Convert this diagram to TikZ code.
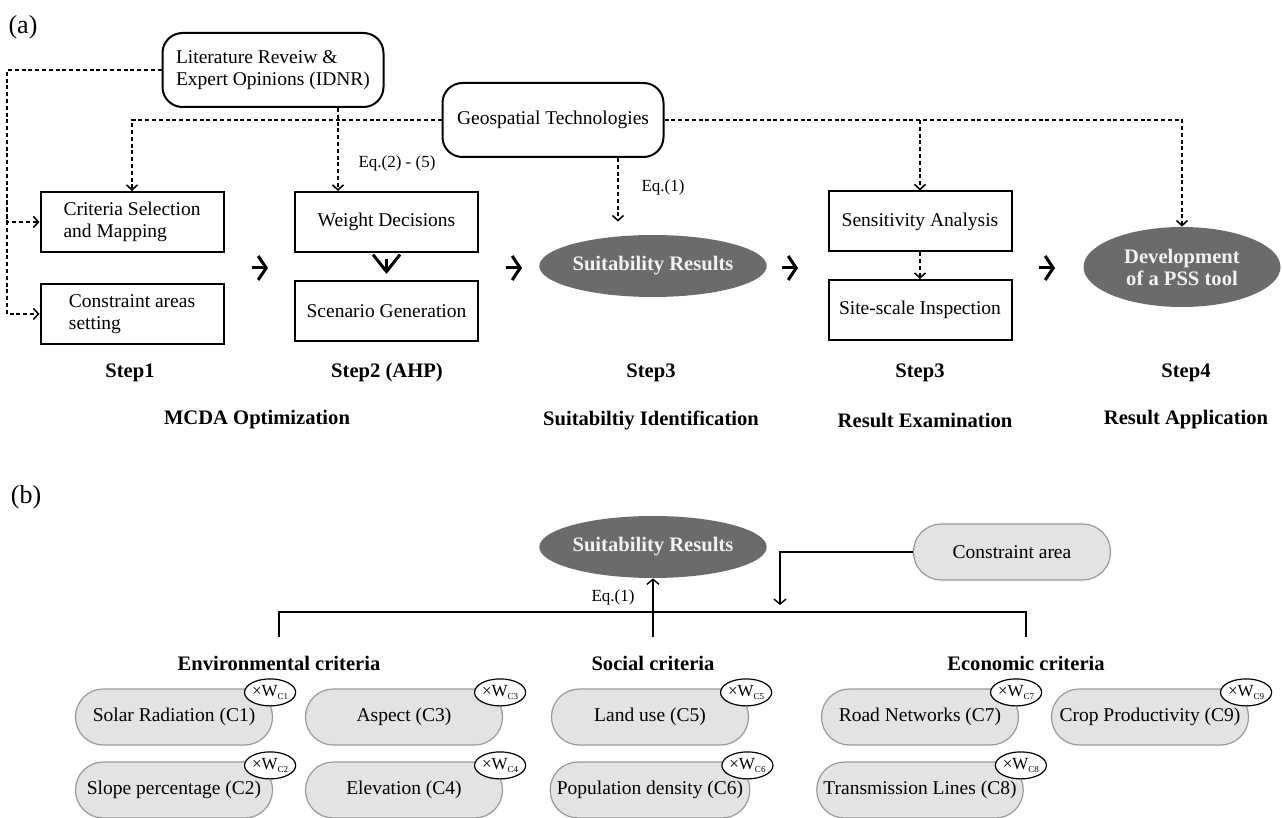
\documentclass[tikz,border=0pt]{standalone}
\usepackage{fontspec}
\setmainfont{Liberation Serif}
\usepackage{tikz}
\usetikzlibrary{shapes.geometric,arrows.meta,calc}
\definecolor{resgray}{HTML}{6B6B6B}
\definecolor{reswhite}{HTML}{F2F2F2}
\definecolor{pillfill}{HTML}{E3E3E3}
\definecolor{pillline}{HTML}{9A9A9A}
\newcommand{\boxfont}{\fontsize{9.75}{11}\selectfont}
\newcommand{\headfont}{\fontsize{10.3}{11}\selectfont\bfseries}
\newcommand{\eqfont}{\fontsize{8.5}{9}\selectfont}
\newcommand{\wsub}[1]{{\fontsize{8.5}{9}\selectfont ×W\raisebox{-1.5pt}{\fontsize{4.5}{5}\selectfont #1}}}
\tikzstyle{stepbox}=[rectangle,draw=black,line width=1pt,inner sep=0pt,
                     minimum width=91.5pt,minimum height=30pt,align=left,font=\boxfont]
\tikzstyle{srcbox}=[rectangle,rounded corners=10pt,draw=black,line width=1pt,
                    minimum width=110.5pt,minimum height=37pt,align=left,font=\boxfont]
\tikzstyle{result}=[ellipse,fill=resgray,inner sep=0pt,text=reswhite,
                    minimum width=103.5pt,minimum height=31pt,align=center,font=\headfont]
\tikzstyle{crit}=[rectangle,rounded corners=13.9pt,draw=pillline,fill=pillfill,
                  line width=0.6pt,minimum width=98.5pt,minimum height=28pt,font=\boxfont]
\tikzstyle{wbadge}=[ellipse,draw=black,fill=white,line width=0.6pt,inner sep=0pt,
                    minimum width=24pt,minimum height=13.5pt]
\tikzstyle{dotarrow}=[dash pattern=on 2pt off 1.4pt,line width=0.8pt,
                      -{Straight Barb[length=2.5pt,width=5.5pt]}]
\tikzstyle{bigarrow}=[line width=1.5pt,-{Straight Barb[length=4pt,width=12pt]}]
\tikzstyle{solidarrow}=[line width=0.7pt,-{Straight Barb[length=2.5pt,width=6pt]}]

\begin{document}
\begin{tikzpicture}[x=0.5pt,y=-0.5pt]
  \useasboundingbox (0,0) rectangle (1282,818);
  % (a) workflow
  \node (pa) at (23,27) {\fontsize{13}{14}\selectfont (a)};
  \node (lit) at (273,70) [srcbox]{Literature Reveiw \&\\Expert Opinions (IDNR)};
  \node (geo) at (553,120) [srcbox]{Geospatial Technologies};
  \node (cs) at (132,222) [stepbox]{Criteria Selection\\and Mapping};
  \node (ca) at (132,314) [stepbox]{Constraint areas\\setting};
  \node (wd) at (386.5,222) [stepbox]{Weight Decisions};
  \node (sg) at (386.5,311) [stepbox]{Scenario Generation};
  \node (res) at (653,266) [result]{Suitability Results};
  \node (sa) at (920,221.5) [stepbox]{Sensitivity Analysis};
  \node (si) at (920,310) [stepbox]{Site-scale Inspection};
  \node (dev) at (1182,267) [result,minimum width=98.5pt,minimum height=40pt]
        {Development\\of a PSS tool};
  \node (eqa) at (397,163) {\eqfont Eq.(2) - (5)};
  \node (eqb) at (663,187) {\eqfont Eq.(1)};
  \node (st1) at (130,373) {\headfont Step1};
  \node (st2) at (387,373) {\headfont Step2 (AHP)};
  \node (st3) at (651,373) {\headfont Step3};
  \node (st4) at (920,373) {\headfont Step3};
  \node (st5) at (1186,373) {\headfont Step4};
  \node (ph1) at (257,420) {\headfont MCDA Optimization};
  \node (ph2) at (651,420) {\headfont Suitabiltiy Identification};
  \node (ph3) at (925,420) {\headfont Result Examination};
  \node (ph4) at (1186,420) {\headfont Result Application};
  \coordinate (lbus) at (7,200);
  \coordinate (tapw) at (338,0);
  \coordinate (tapg) at (618,0);
  \draw[dotarrow] (lit.west) -| (lbus) |- (ca.west);
  \draw[dotarrow] (lbus) |- (cs.west);
  \draw[dotarrow] (lit.south -| tapw) -- (wd.north -| tapw);
  \draw[dotarrow] (geo.west) -| (cs.north);
  \draw[dotarrow,shorten >=6.5pt] (geo.south -| tapg) -- (res.north -| tapg);
  \draw[dotarrow] (geo.east) -| (dev.north);
  \draw[dotarrow] (geo.east -| sa.north) -- (sa.north);
  \draw[dotarrow] (sa) -- (si);
  \draw[line width=1.5pt,-{Straight Barb[length=8.5pt,width=13.5pt]},
        shorten <=3pt,shorten >=3pt] (wd.south) -- (sg.north);
  \coordinate (g1a) at (252,268); \coordinate (g1b) at (268,268);
  \coordinate (g2a) at (506,268); \coordinate (g2b) at (522,268);
  \coordinate (g3a) at (782,268); \coordinate (g3b) at (798,268);
  \coordinate (g4a) at (1039,268); \coordinate (g4b) at (1055,268);
  \draw[bigarrow] (g1a) -- (g1b);
  \draw[bigarrow] (g2a) -- (g2b);
  \draw[bigarrow] (g3a) -- (g3b);
  \draw[bigarrow] (g4a) -- (g4b);

  % (b) criteria
  \node (pb) at (26,497) {\fontsize{13}{14}\selectfont (b)};
  \node (res2) at (653,547) [result]{Suitability Results};
  \node (con) at (1012,552) [crit]{Constraint area};
  \node (env) at (279,663) [minimum height=26pt]{\headfont Environmental criteria};
  \node (soc) at (653,663) [minimum height=26pt]{\headfont Social criteria};
  \node (eco) at (1026,663) [minimum height=26pt]{\headfont Economic criteria};
  \node (eqc) at (613,597) {\eqfont Eq.(1)};
  \coordinate (bus) at (0,612);
  \coordinate (cin) at (780,605);
  \draw[line width=0.7pt] (env.north) -- (env.north |- bus) -- (eco.north |- bus) -- (eco.north);
  \draw[solidarrow] (soc.north) -- (res2.south);
  \draw[solidarrow] (con.west) -| (cin);
  \node (c1) at (174,717) [crit]{Solar Radiation (C1)};
  \node (c2) at (174,790) [crit]{Slope percentage (C2)};
  \node (c3) at (404,717) [crit]{Aspect (C3)};
  \node (c4) at (404,790) [crit]{Elevation (C4)};
  \node (c5) at (650,717) [crit]{Land use (C5)};
  \node (c6) at (650,790) [crit]{Population density (C6)};
  \node (c7) at (920,717) [crit]{Road Networks (C7)};
  \node (c8) at (920,790) [crit]{Transmission Lines (C8)};
  \node (c9) at (1150,717) [crit]{Crop Productivity (C9)};
  \node (w1) at ($(c1.north east)+(-3,4)$) [wbadge]{\wsub{C1}};
  \node (w2) at ($(c2.north east)+(-3,4)$) [wbadge]{\wsub{C2}};
  \node (w3) at ($(c3.north east)+(-3,4)$) [wbadge]{\wsub{C3}};
  \node (w4) at ($(c4.north east)+(-3,4)$) [wbadge]{\wsub{C4}};
  \node (w5) at ($(c5.north east)+(-3,4)$) [wbadge]{\wsub{C5}};
  \node (w6) at ($(c6.north east)+(-3,4)$) [wbadge]{\wsub{C6}};
  \node (w7) at ($(c7.north east)+(-3,4)$) [wbadge]{\wsub{C7}};
  \node (w8) at ($(c8.north east)+(-3,4)$) [wbadge]{\wsub{C8}};
  \node (w9) at ($(c9.north east)+(-3,4)$) [wbadge]{\wsub{C9}};
\end{tikzpicture}
\end{document}
